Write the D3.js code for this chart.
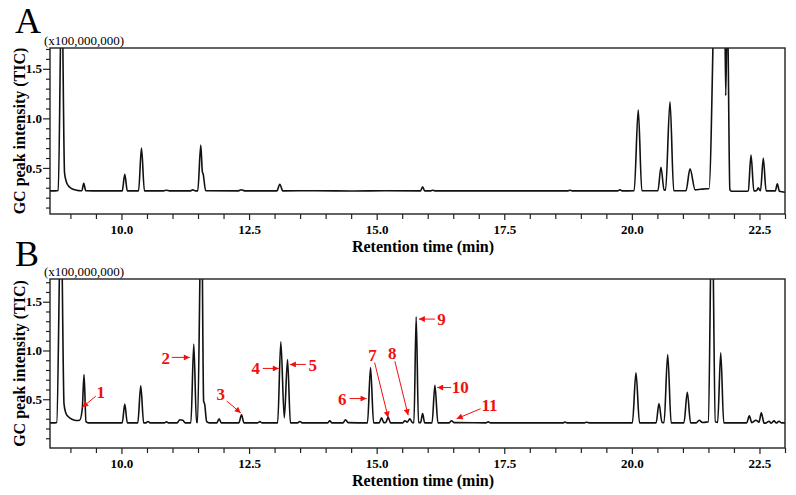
<!DOCTYPE html>
<html><head><meta charset="utf-8">
<script src="https://cdn.jsdelivr.net/npm/d3@7"></script>
<style>
body{margin:0;background:#fff}
svg{display:block}
text{font-family:"Liberation Serif","Times New Roman",serif}
</style></head><body>
<svg id="chart" width="796" height="495"></svg>
<script>
// ---- data (retention time in min, TIC intensity in units of 1e8) ----
const timeA = [
 8.60, 8.70, 8.761, 8.83, 8.885, 8.92, 8.96, 9.03, 9.12, 9.20,
 9.225, 9.261, 9.30, 9.6, 9.95, 10.015, 10.065, 10.115, 10.335, 10.392,
 10.45, 10.82, 10.882, 10.94, 11.34, 11.397, 11.45, 11.495, 11.554, 11.585,
 11.60, 11.65, 12.29, 12.35, 12.41, 13.045, 13.103, 13.16, 13.8, 14.5,
 15.2, 15.86, 15.90, 15.94, 16.06, 16.10, 16.14, 17.5, 18.75, 18.787,
 18.83, 19.72, 19.767, 19.81, 20.045, 20.125, 20.195, 20.51, 20.57, 20.63,
 20.66, 20.747, 20.82, 21.06, 21.139, 21.24, 21.35, 21.48, 21.51, 21.66,
 21.81, 21.839, 21.87, 21.92, 21.95, 22.26, 22.28, 22.334, 22.39, 22.44,
 22.477, 22.50, 22.52, 22.575, 22.63, 22.81, 22.85, 22.89, 23.0];
const intensityA = [
 0.268, 0.268, 0.272, 2.4, 0.45, 0.36, 0.32, 0.29, 0.275, 0.27,
 0.27, 0.345, 0.27, 0.268, 0.268, 0.268, 0.436, 0.268, 0.268, 0.70,
 0.268, 0.268, 0.275, 0.268, 0.268, 0.278, 0.268, 0.268, 0.73, 0.46,
 0.44, 0.27, 0.268, 0.28, 0.268, 0.268, 0.335, 0.268, 0.27, 0.267,
 0.27, 0.268, 0.31, 0.268, 0.268, 0.275, 0.268, 0.268, 0.268, 0.275,
 0.268, 0.268, 0.278, 0.268, 0.27, 1.086, 0.27, 0.27, 0.507, 0.28,
 0.275, 1.167, 0.27, 0.27, 0.49, 0.278, 0.285, 0.29, 0.29, 3.0,
 2.6, 1.23, 2.2, 0.28, 0.265, 0.265, 0.268, 0.63, 0.268, 0.27,
 0.30, 0.28, 0.27, 0.598, 0.268, 0.268, 0.34, 0.265, 0.255];

const timeB = [
 8.60, 8.70, 8.732, 8.815, 8.875, 8.91, 8.96, 9.03, 9.12, 9.18,
 9.232, 9.267, 9.305, 9.35, 9.7, 10.015, 10.065, 10.115, 10.32, 10.378,
 10.435, 10.48, 10.521, 10.56, 10.84, 10.882, 10.92, 11.09, 11.143, 11.20,
 11.25, 11.36, 11.417, 11.47, 11.49, 11.568, 11.61, 11.63, 11.67, 11.72,
 11.87, 11.913, 11.955, 12.30, 12.352, 12.40, 12.67, 12.711, 12.75, 13.06,
 13.122, 13.19, 13.254, 13.31, 13.45, 13.495, 13.54, 14.04, 14.083, 14.12,
 14.34, 14.39, 14.44, 14.82, 14.88, 14.94, 15.05, 15.096, 15.14, 15.18,
 15.225, 15.27, 15.51, 15.553, 15.60, 15.651, 15.70, 15.73, 15.774, 15.82,
 15.86, 15.90, 15.94, 16.085, 16.141, 16.20, 16.42, 16.468, 16.52, 17.14,
 17.185, 17.23, 18.65, 18.689, 18.73, 19.07, 19.114, 19.16, 20.01, 20.08,
 20.15, 20.475, 20.531, 20.59, 20.63, 20.702, 20.77, 21.02, 21.086, 21.15,
 21.26, 21.321, 21.38, 21.46, 21.497, 21.57, 21.635, 21.68, 21.741, 21.80,
 22.25, 22.301, 22.35, 22.432, 22.49, 22.536, 22.59, 22.64, 22.687, 22.73,
 22.785, 22.83, 22.883, 22.93, 23.0];
const intensityB = [
 0.258, 0.258, 0.262, 2.5, 0.45, 0.36, 0.32, 0.295, 0.282, 0.285,
 0.40, 0.754, 0.27, 0.258, 0.258, 0.258, 0.45, 0.258, 0.258, 0.637,
 0.258, 0.258, 0.272, 0.258, 0.258, 0.268, 0.258, 0.258, 0.29, 0.285,
 0.258, 0.258, 1.065, 0.262, 0.262, 2.6, 0.48, 0.45, 0.27, 0.258,
 0.258, 0.30, 0.258, 0.258, 0.34, 0.258, 0.258, 0.27, 0.258, 0.258,
 1.089, 0.31, 0.908, 0.258, 0.258, 0.272, 0.258, 0.258, 0.28, 0.258,
 0.258, 0.29, 0.26, 0.258, 0.826, 0.258, 0.258, 0.31, 0.26, 0.262,
 0.318, 0.258, 0.258, 0.28, 0.265, 0.30, 0.26, 0.26, 1.346, 0.262,
 0.26, 0.353, 0.258, 0.258, 0.644, 0.258, 0.258, 0.28, 0.26, 0.258,
 0.268, 0.258, 0.258, 0.266, 0.258, 0.258, 0.264, 0.258, 0.258, 0.77,
 0.258, 0.258, 0.456, 0.262, 0.26, 0.959, 0.258, 0.258, 0.572, 0.258,
 0.258, 0.284, 0.262, 0.265, 0.27, 2.6, 0.27, 0.262, 0.976, 0.258,
 0.258, 0.33, 0.26, 0.285, 0.265, 0.36, 0.255, 0.26, 0.275, 0.255,
 0.278, 0.256, 0.275, 0.258, 0.258];

const xTickValues = [10.0, 12.5, 15.0, 17.5, 20.0, 22.5];
const yTickValues = [0.5, 1.0, 1.5];
const panelNames = ["A", "B"];
const scaleNote = "(x100,000,000)";
const xTitle = "Retention time (min)";
const yTitle = "GC peak intensity (TIC)";

// annotated peaks in chromatogram B (arrow tips)
const peakLabels = ["1","2","3","4","5","6","7","8","9","10","11"];
const peakTimes = [9.232, 11.339, 12.338, 13.083, 13.299, 14.802, 15.225, 15.617, 15.827, 16.186, 16.566];
const peakIntensities = [0.418, 0.929, 0.359, 0.816, 0.857, 0.507, 0.312, 0.336, 1.322, 0.62, 0.30];

// ---- layout ----
const labelLayout = [ // [label dx, label dy, tail dx, tail dy] relative to arrow tip (px)
 [18.5,-15,13.5,-11],[-24,0.7,-18,0],[-20,-18,-14,-12],[-23,0,-16,0],[23,0.7,16,0],
 [-24.4,0.7,-17,0],[-15.6,-62,-13.5,-55],[-16,-62,-13.3,-54],[22.7,0,16,0],[23,0,14,0],[33,-13,24,-10]];

const svg = d3.select("#chart");
const left = 50, right = 785;
const x = d3.scaleLinear().domain([8.6, 23.0]).range([left, right]);
const RED = "#f01010";

svg.append("defs").append("marker")
  .attr("id","arrow").attr("viewBox","0 0 10 10").attr("refX",10).attr("refY",5)
  .attr("markerUnits","userSpaceOnUse").attr("markerWidth",7).attr("markerHeight",6)
  .attr("orient","auto")
  .append("path").attr("d","M0,0 L10,5 L0,10 z").attr("fill",RED);

const panels = [
  {name: panelNames[0], top:48, bottom:214, dom:[0.035,1.71], t:timeA, v:intensityA, letterY:33, noteY:44.5},
  {name: panelNames[1], top:279, bottom:448, dom:[0.0,1.733], t:timeB, v:intensityB, letterY:266, noteY:276}
];

const minorX = d3.range(18, 47).map(i => i*0.5).filter(d => !xTickValues.includes(d));

panels.forEach((p, pi) => {
  const y = d3.scaleLinear().domain(p.dom).range([p.bottom, p.top]);
  const g = svg.append("g");
  const clipId = "clip" + pi;
  svg.select("defs").append("clipPath").attr("id", clipId)
    .append("rect").attr("x", left).attr("y", p.top).attr("width", right-left).attr("height", p.bottom-p.top);

  const pts = p.t.map((t,i) => [t, p.v[i]]);
  g.append("path").datum(pts)
    .attr("clip-path", `url(#${clipId})`)
    .attr("fill","none").attr("stroke","#111").attr("stroke-width",1.6).attr("stroke-linejoin","round")
    .attr("d", d3.line().x(d => x(d[0])).y(d => y(d[1])).curve(d3.curveMonotoneX));

  // x axis
  const gx1 = g.append("g").attr("transform",`translate(0,${p.bottom})`)
    .call(d3.axisBottom(x).tickValues(minorX).tickSize(5).tickFormat(""));
  const gx2 = g.append("g").attr("transform",`translate(0,${p.bottom})`)
    .call(d3.axisBottom(x).tickValues(xTickValues).tickSize(6).tickPadding(5).tickFormat(d3.format(".1f")));
  // y axis
  const minorY = d3.range(1, 18).map(i => i/10).filter(d => d > p.dom[0] && d < p.dom[1] && !yTickValues.some(v => Math.abs(v-d) < 1e-9));
  const gy1 = g.append("g").attr("transform",`translate(${left},0)`)
    .call(d3.axisLeft(y).tickValues(minorY).tickSize(4).tickFormat(""));
  const gy2 = g.append("g").attr("transform",`translate(${left},0)`)
    .call(d3.axisLeft(y).tickValues(yTickValues).tickSize(7).tickPadding(1).tickFormat(d3.format(".1f")));
  [gx1,gx2,gy1,gy2].forEach(a => {
    a.select(".domain").remove();
    a.selectAll(".tick line").attr("stroke","#222").attr("stroke-width",1.2);
    a.selectAll(".tick text").attr("fill","#000").style("font-size","13px").style("font-weight","bold")
      .style("font-family",'"Liberation Serif","Times New Roman",serif');
  });

  // frame
  g.append("rect").attr("x",left).attr("y",p.top).attr("width",right-left).attr("height",p.bottom-p.top)
    .attr("fill","none").attr("stroke","#222").attr("stroke-width",1.4);

  // titles
  g.append("text").attr("x",423).attr("y",p.bottom+38).attr("text-anchor","middle")
    .style("font-size","16px").style("font-weight","bold").text(xTitle);
  g.append("text").attr("transform",`translate(19,${(p.top+p.bottom)/2}) rotate(-90)`)
    .attr("text-anchor","middle").attr("dominant-baseline","central")
    .style("font-size","16px").style("font-weight","bold").text(yTitle);
  g.append("text").attr("x",44).attr("y",p.noteY).style("font-size","13px").text(scaleNote);
  g.append("text").attr("x",15).attr("y",p.letterY).style("font-size","36px").text(p.name);

  if (pi === 1) {
    const ag = g.append("g");
    peakLabels.forEach((lab, i) => {
      const tx = x(peakTimes[i]), ty = y(peakIntensities[i]);
      const L = labelLayout[i];
      ag.append("line").attr("x1", tx+L[2]).attr("y1", ty+L[3]).attr("x2", tx).attr("y2", ty)
        .attr("stroke",RED).attr("stroke-width",1).attr("marker-end","url(#arrow)");
      ag.append("text").attr("x", tx+L[0]).attr("y", ty+L[1]).attr("text-anchor","middle")
        .attr("dominant-baseline","central").attr("fill",RED)
        .style("font-size","17px").style("font-weight","bold").text(lab);
    });
  }
});
</script>
</body></html>
